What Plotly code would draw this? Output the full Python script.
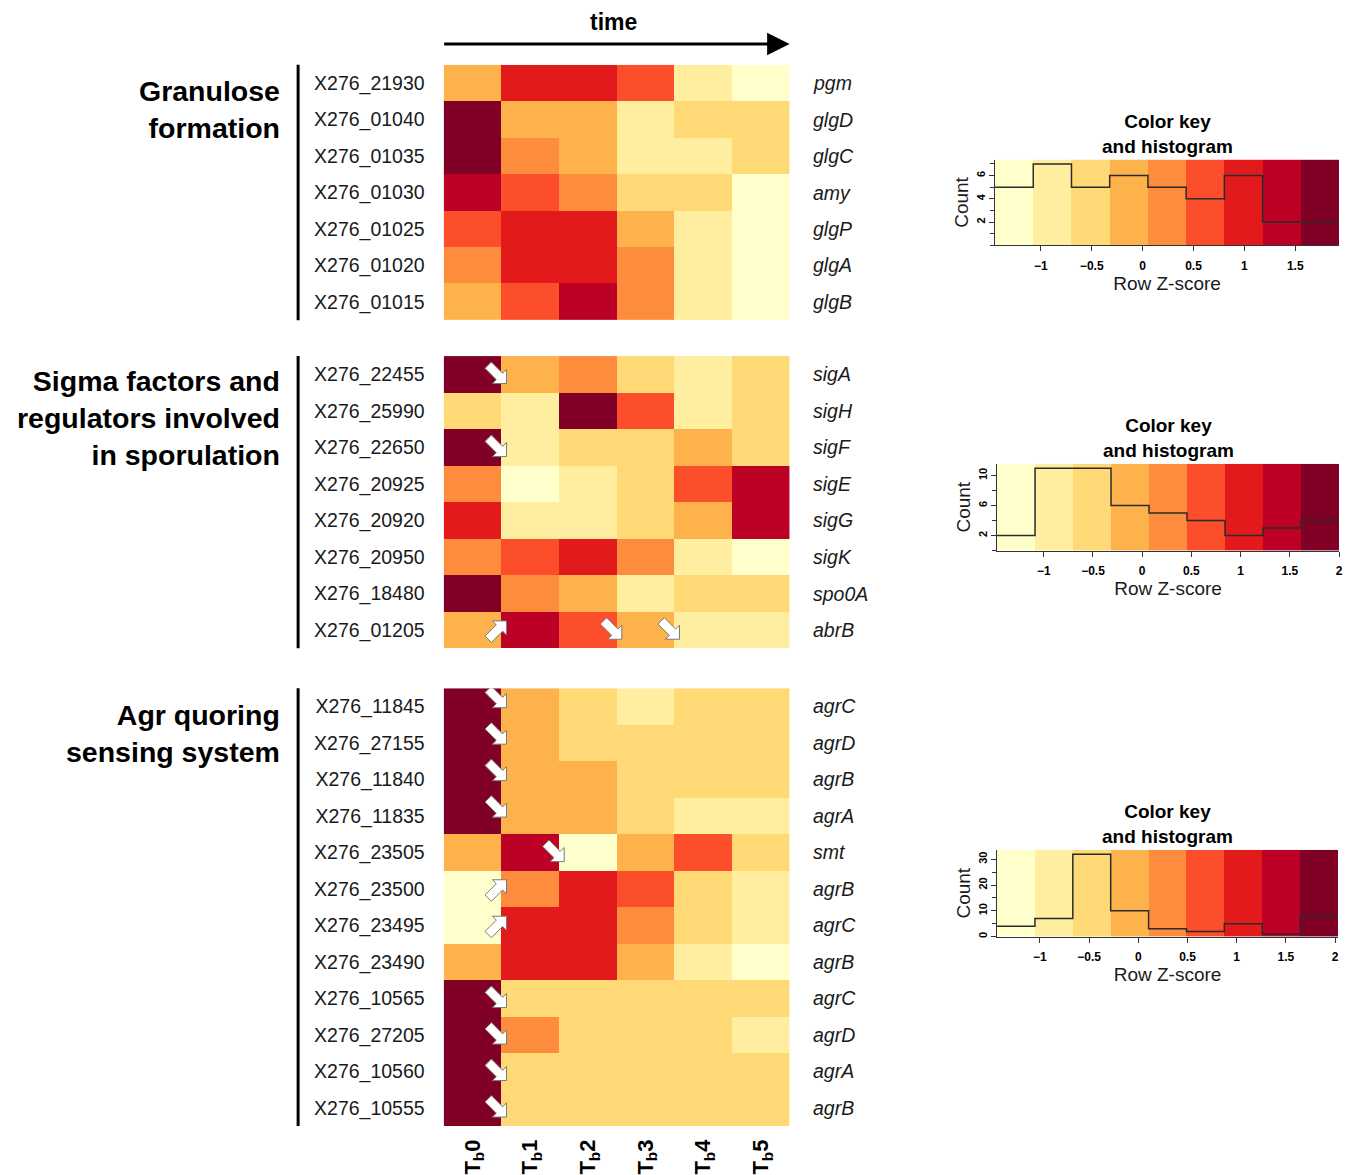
import math
import plotly.graph_objects as go

# ---------------- data ----------------
time_labels = ["T<sub>b</sub>0", "T<sub>b</sub>1", "T<sub>b</sub>2",
               "T<sub>b</sub>3", "T<sub>b</sub>4", "T<sub>b</sub>5"]

gran_title = "Granulose<br>formation"
gran_ids = ["X276_21930", "X276_01040", "X276_01035", "X276_01030",
            "X276_01025", "X276_01020", "X276_01015"]
gran_names = ["pgm", "glgD", "glgC", "amy", "glgP", "glgA", "glgB"]
gran_z = [
    [-0.15, 1.0, 1.0, 0.6, -0.9, -1.3],
    [1.8, -0.15, -0.15, -0.9, -0.5, -0.5],
    [1.8, 0.25, -0.15, -0.9, -0.9, -0.5],
    [1.4, 0.6, 0.25, -0.5, -0.5, -1.3],
    [0.6, 1.0, 1.0, -0.15, -0.9, -1.3],
    [0.25, 1.0, 1.0, 0.25, -0.9, -1.3],
    [-0.15, 0.6, 1.4, 0.25, -0.9, -1.3],
]
gran_counts = [5, 7, 5, 6, 5, 4, 6, 2, 2]
gran_key_range = [-1.45, 1.93]
gran_count_ticks = [2, 4, 6]

sig_title = "Sigma factors and<br>regulators involved<br>in sporulation"
sig_ids = ["X276_22455", "X276_25990", "X276_22650", "X276_20925",
           "X276_20920", "X276_20950", "X276_18480", "X276_01205"]
sig_names = ["sigA", "sigH", "sigF", "sigE", "sigG", "sigK", "spo0A", "abrB"]
sig_z = [
    [1.8, -0.15, 0.25, -0.5, -0.9, -0.5],
    [-0.5, -0.9, 1.8, 0.6, -0.9, -0.5],
    [1.8, -0.9, -0.5, -0.5, -0.15, -0.5],
    [0.25, -1.3, -0.9, -0.5, 0.6, 1.4],
    [1.0, -0.9, -0.9, -0.5, -0.15, 1.4],
    [0.25, 0.6, 1.0, 0.25, -0.9, -1.3],
    [1.8, 0.25, -0.15, -0.9, -0.5, -0.5],
    [-0.15, 1.4, 0.6, -0.15, -0.9, -0.9],
]
sig_counts = [2, 11, 11, 6, 5, 4, 2, 3, 4]
sig_key_range = [-1.475, 2.0]
sig_count_ticks = [2, 6, 10]
# (row, boundary column, direction)
sig_arrows = [(0, 1, "down"), (2, 1, "down"), (7, 1, "up"),
              (7, 3, "down"), (7, 4, "down")]

agr_title = "Agr quoring<br>sensing system"
agr_ids = ["X276_11845", "X276_27155", "X276_11840", "X276_11835",
           "X276_23505", "X276_23500", "X276_23495", "X276_23490",
           "X276_10565", "X276_27205", "X276_10560", "X276_10555"]
agr_names = ["agrC", "agrD", "agrB", "agrA", "smt", "agrB", "agrC", "agrB",
             "agrC", "agrD", "agrA", "agrB"]
agr_z = [
    [1.8, -0.15, -0.5, -0.9, -0.5, -0.5],
    [1.8, -0.15, -0.5, -0.5, -0.5, -0.5],
    [1.8, -0.15, -0.15, -0.5, -0.5, -0.5],
    [1.8, -0.15, -0.15, -0.5, -0.9, -0.9],
    [-0.15, 1.4, -1.3, -0.15, 0.6, -0.5],
    [-1.3, 0.25, 1.0, 0.6, -0.5, -0.9],
    [-1.3, 1.0, 1.0, 0.25, -0.5, -0.9],
    [-0.15, 1.0, 1.0, -0.15, -0.9, -1.3],
    [1.8, -0.5, -0.5, -0.5, -0.5, -0.5],
    [1.8, 0.25, -0.5, -0.5, -0.5, -0.9],
    [1.8, -0.5, -0.5, -0.5, -0.5, -0.5],
    [1.8, -0.5, -0.5, -0.5, -0.5, -0.5],
]
agr_counts = [4, 7, 32, 10, 3, 2, 5, 1, 8]
agr_key_range = [-1.436, 2.03]
agr_count_ticks = [0, 10, 20, 30]
agr_arrows = [(0, 1, "down"), (1, 1, "down"), (2, 1, "down"), (3, 1, "down"),
              (4, 2, "down"), (5, 1, "up"), (6, 1, "up"),
              (8, 1, "down"), (9, 1, "down"), (10, 1, "down"), (11, 1, "down")]

palette = ["#FFFFCC", "#FFEDA0", "#FED976", "#FEB24C", "#FD8D3C",
           "#FC4E2A", "#E31A1C", "#BD0026", "#800026"]

# ---------------- layout geometry (pixels) ----------------
W, H = 1348, 1175
HM_L, HM_R = 445, 792
panels = [
    dict(title=gran_title, ids=gran_ids, names=gran_names, z=gran_z,
         counts=gran_counts, krange=gran_key_range, arrows=[], top=65, bot=321,
         title_y=110, key=(998, 1343, 160, 246), cticks=gran_count_ticks, ymin=1,
         arrow_dy={}),
    dict(title=sig_title, ids=sig_ids, names=sig_names, z=sig_z,
         counts=sig_counts, krange=sig_key_range, arrows=sig_arrows, top=357, bot=650,
         title_y=419, key=(1000, 1343, 465, 552), cticks=sig_count_ticks, ymin=2,
         arrow_dy={}),
    dict(title=agr_title, ids=agr_ids, names=agr_names, z=agr_z,
         counts=agr_counts, krange=agr_key_range, arrows=agr_arrows, top=690, bot=1129,
         title_y=735, key=(1000, 1342, 852, 939), cticks=agr_count_ticks, ymin=5,
         arrow_dy={0: -8, 1: -8, 2: -8, 3: -8}),
]


def px_x(p):
    return p / W


def px_y(p):
    return 1 - p / H


FONT = "Liberation Sans, Arial, sans-serif"


def step_scale():
    cs = []
    n = len(palette)
    for k, c in enumerate(palette):
        cs.append([k / n, c])
        cs.append([(k + 1) / n, c])
    return cs


CS = step_scale()

fig = go.Figure()
layout = dict(width=W, height=H, autosize=False,
              margin=dict(l=0, r=0, t=0, b=0),
              paper_bgcolor="white", plot_bgcolor="white",
              font=dict(family=FONT, color="black"), showlegend=False)
annotations = []
shapes = []

ARROW_LOCAL = [(-13, -4.5), (3, -4.5), (3, -10), (13, 0), (3, 10), (3, 4.5), (-13, 4.5)]

for i, p in enumerate(panels):
    ax_n = i + 1
    xa = "x" if ax_n == 1 else f"x{ax_n}"
    ya = "y" if ax_n == 1 else f"y{ax_n}"
    nrow = len(p["ids"])
    lo, hi = p["krange"]
    fig.add_trace(go.Heatmap(
        z=p["z"], x=list(range(6)), y=list(range(nrow)),
        zmin=lo, zmax=hi, colorscale=CS, showscale=False,
        xaxis=xa, yaxis=ya, hoverinfo="skip"))
    layout["xaxis" if ax_n == 1 else f"xaxis{ax_n}"] = dict(
        domain=[px_x(HM_L), px_x(HM_R)], anchor=ya, range=[-0.5, 5.5],
        showgrid=False, zeroline=False, showline=False, ticks="",
        tickvals=list(range(6)), ticktext=time_labels,
        showticklabels=(i == 2), tickangle=-90, ticklabelstandoff=8,
        tickfont=dict(size=22, weight="bold", color="black"))
    layout["yaxis" if ax_n == 1 else f"yaxis{ax_n}"] = dict(
        domain=[px_y(p["bot"]), px_y(p["top"])], anchor=xa,
        range=[nrow - 0.5, -0.5], showgrid=False, zeroline=False,
        showline=False, ticks="", tickvals=list(range(nrow)),
        ticktext=p["ids"], ticklabelstandoff=18,
        tickfont=dict(size=19.5, color="#1a1a1a"))
    for r, nm in enumerate(p["names"]):
        annotations.append(dict(x=5.5, y=r, xref=xa, yref=ya, text=nm,
                                showarrow=False, xanchor="left", xshift=21,
                                font=dict(size=19.5, style="italic", color="#1a1a1a")))
    # group title
    annotations.append(dict(x=px_x(283), y=px_y(p["title_y"]), xref="paper", yref="paper",
                            text=p["title"], showarrow=False, xanchor="right",
                            yanchor="middle", align="right",
                            font=dict(size=28.5, weight="bold", color="black")))
    # vertical bar
    shapes.append(dict(type="line", xref="paper", yref="paper",
                       x0=px_x(299), x1=px_x(299),
                       y0=px_y(p["top"]), y1=px_y(p["bot"]),
                       line=dict(color="black", width=3)))
    # white arrows
    cw = (HM_R - HM_L) / 6
    ch = (p["bot"] - p["top"]) / nrow
    s = 1 / math.sqrt(2)
    for (r, b, d) in p["arrows"]:
        ux, uy = (s, s) if d == "down" else (s, -s)
        vx, vy = -uy, ux
        xc = b - 0.5 - 4 / cw
        yc = r + p["arrow_dy"].get(r, 0) / ch
        pts = [(xc + (u * ux + v * vx) / cw, yc + (u * uy + v * vy) / ch)
               for u, v in ARROW_LOCAL]
        path = "M " + " L ".join(f"{x:.4f},{y:.4f}" for x, y in pts) + " Z"
        shapes.append(dict(type="path", xref=xa, yref=ya, path=path,
                           fillcolor="white", line=dict(color="#7a7a7a", width=1)))

    # ----- color key -----
    k_n = i + 4
    kxa, kya = f"x{k_n}", f"y{k_n}"
    kl, kr, kt, kb = p["key"]
    nb = len(p["counts"])
    edges = [lo + (hi - lo) * k / nb for k in range(nb + 1)]
    centers = [(edges[k] + edges[k + 1]) / 2 for k in range(nb)]
    ymax = max(p["counts"]) / 0.95
    fig.add_trace(go.Heatmap(z=[centers], x=edges, y=[0, ymax], zmin=lo, zmax=hi,
                             colorscale=CS, showscale=False, xaxis=kxa, yaxis=kya,
                             hoverinfo="skip"))
    fig.add_trace(go.Scatter(x=edges, y=p["counts"] + [p["counts"][-1]],
                             mode="lines", line=dict(shape="hv", color="#2b2b2b", width=1.5),
                             xaxis=kxa, yaxis=kya, hoverinfo="skip"))
    layout[f"xaxis{k_n}"] = dict(
        domain=[px_x(kl), px_x(kr)], anchor=kya, range=[lo, hi],
        showgrid=False, zeroline=False, showline=True, linecolor="#333", linewidth=1.2,
        ticks="outside", ticklen=5, tickcolor="#333", tick0=0, dtick=0.5,
        ticklabelstandoff=4,
        tickfont=dict(size=12, weight="bold", color="black"),
        title=dict(text="Row Z-score", font=dict(size=19, color="#1a1a1a"), standoff=2))
    layout[f"yaxis{k_n}"] = dict(
        domain=[px_y(kb), px_y(kt)], anchor=kxa, range=[0, ymax],
        showgrid=False, zeroline=False, showline=True, linecolor="#333", linewidth=1.2,
        ticks="outside", ticklen=5, tickcolor="#333",
        tickvals=p["cticks"], tickangle=-90,
        minor=dict(ticks="outside", ticklen=4, tickcolor="#333", tick0=0, dtick=p["ymin"]),
        tickfont=dict(size=11, weight="bold", color="black"),
        title=dict(text="Count", font=dict(size=19, color="#1a1a1a"), standoff=0))
    annotations.append(dict(x=px_x((kl + kr) / 2), y=px_y(kt - 1), xref="paper", yref="paper",
                            text="Color key<br>and histogram", showarrow=False,
                            xanchor="center", yanchor="bottom",
                            font=dict(size=19, weight="bold", color="black")))

# time arrow
annotations.append(dict(x=px_x(792), y=px_y(44), xref="paper", yref="paper",
                        ax=-(792 - 445), ay=0, text="", showarrow=True,
                        arrowhead=2, arrowsize=1.5, arrowwidth=3, arrowcolor="black"))
annotations.append(dict(x=px_x(615), y=px_y(22), xref="paper", yref="paper",
                        text="time", showarrow=False, xanchor="center", yanchor="middle",
                        font=dict(size=23, weight="bold", color="black")))

layout["annotations"] = annotations
layout["shapes"] = shapes
fig.update_layout(**layout)
fig.write_html("out.html", config={"displayModeBar": False})

# remove the browser's default body margin so that figure pixels match the page
with open("out.html", "r", encoding="utf-8") as f:
    html = f.read()
html = html.replace("<body>", '<body style="margin:0;padding:0;">', 1)
with open("out.html", "w", encoding="utf-8") as f:
    f.write(html)
